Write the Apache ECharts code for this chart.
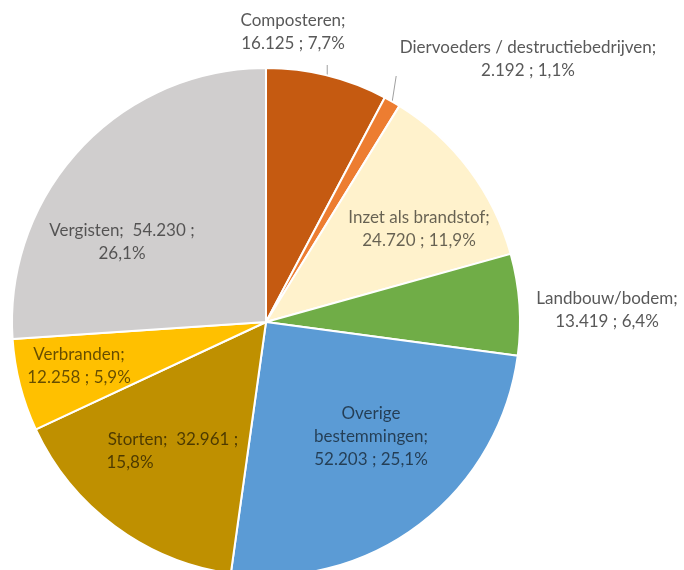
<!DOCTYPE html>
<html>
<head>
<meta charset="utf-8">
<script src="https://cdn.jsdelivr.net/npm/echarts@6/dist/echarts.min.js"></script>
<style>
html,body{margin:0;padding:0;background:#fff;}
#chart{width:684px;height:570px;}
</style>
</head>
<body>
<div id="chart"></div>
<script>
// ---- data ----
const categories = [
  'Composteren',
  'Diervoeders / destructiebedrijven',
  'Inzet als brandstof',
  'Landbouw/bodem',
  'Overige bestemmingen',
  'Storten',
  'Verbranden',
  'Vergisten'
];
const values = [16125, 2192, 24720, 13419, 52203, 32961, 12258, 54230];

// ---- styles ----
const colors = ['#C55A11', '#ED7D31', '#FFF2CC', '#70AD47', '#5B9BD5', '#BF9000', '#FFC000', '#D0CECE'];
const outside = [true, true, false, true, false, false, false, false];
const leader = [true, true, false, false, false, false, false, false];
// label block centres (layout)
const labelPos = [
  [293, 32], [528, 59], [419, 229], [607, 310],
  [371, 437], [173, 451], [79, 366], [122, 242]
];
const leaderEndY = [65, 76];

const total = values.reduce((a, b) => a + b, 0);
function fmtNum(v) {
  return String(v).replace(/\B(?=(\d{3})+(?!\d))/g, '.');
}
function fmtPct(v) {
  return (v / total * 100).toFixed(1).replace('.', ',') + '%';
}
function labelText(i) {
  const n = categories[i], v = fmtNum(values[i]), p = fmtPct(values[i]);
  if (n === 'Overige bestemmingen') return 'Overige\nbestemmingen;\n' + v + ' ; ' + p;
  if (n === 'Vergisten') return n + ';  ' + v + ' ;\n' + p;
  if (n === 'Storten') return '{a|' + n + ';  ' + v + ' ;}\n{b|' + p + '}';
  return n + ';\n' + v + ' ; ' + p;
}

const data = categories.map((name, i) => ({
  name: name,
  value: values[i],
  itemStyle: { color: colors[i] },
  label: {
    position: outside[i] ? 'outside' : 'inside',
    color: outside[i] ? '#595959' : 'rgba(0,0,0,0.6)'
  },
  labelLine: { show: leader[i], length: 8, length2: 0, lineStyle: { color: '#a0a0a0', width: 1 } }
}));

const chart = echarts.init(document.getElementById('chart'), null, { renderer: 'canvas' });
chart.setOption({
  backgroundColor: '#ffffff',
  animation: false,
  series: [{
    type: 'pie',
    center: [266, 322],
    radius: 254,
    startAngle: 90,
    clockwise: true,
    avoidLabelOverlap: false,
    itemStyle: { borderColor: '#ffffff', borderWidth: 2 },
    emphasis: { disabled: true },
    label: {
      show: true,
      fontFamily: 'Lato',
      fontSize: 17,
      lineHeight: 23,
      align: 'center',
      verticalAlign: 'middle',
      formatter: p => labelText(p.dataIndex),
      rich: {
        a: { fontFamily: 'Lato', fontSize: 17, lineHeight: 23, color: 'rgba(0,0,0,0.6)' },
        b: { fontFamily: 'Lato', fontSize: 17, lineHeight: 23, color: 'rgba(0,0,0,0.6)', padding: [0, 86, 0, 0] }
      }
    },
    labelLayout: function (params) {
      const i = params.dataIndex;
      const res = { x: labelPos[i][0], y: labelPos[i][1], align: 'center', verticalAlign: 'middle' };
      if (leader[i] && params.labelLinePoints) {
        const s = params.labelLinePoints[0];
        const ex = i === 0 ? s[0] : s[0] + 4;
        res.labelLinePoints = [[s[0], s[1]], [ex, leaderEndY[i]], [ex, leaderEndY[i]]];
      }
      return res;
    },
    data: data
  }]
});
</script>
</body>
</html>
